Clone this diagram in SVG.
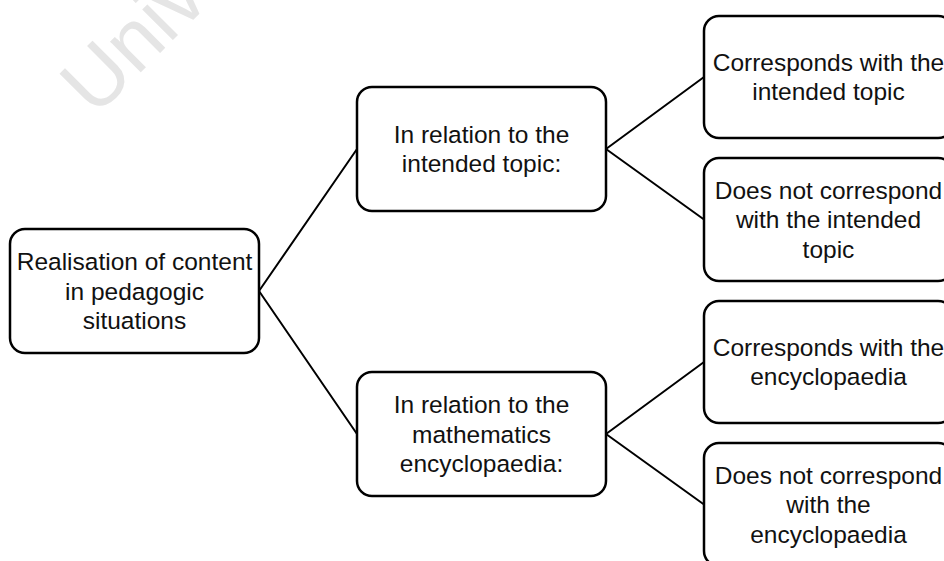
<svg xmlns="http://www.w3.org/2000/svg" width="944" height="561" viewBox="0 0 944 561">
<style>
.box{fill:#fff;stroke:#000;stroke-width:2.5}
.t{font-family:"Liberation Sans",Arial,sans-serif;font-size:24.5px;fill:#111;text-anchor:middle}
.c{stroke:#000;stroke-width:2;fill:none}
.wm{font-family:"Liberation Sans",Arial,sans-serif;font-size:82px;fill:#e5e5e5}
</style>
<rect width="944" height="561" fill="#fff"/>
<text class="wm" transform="translate(95,118) rotate(-45)">Univ</text>
<g id="connectors">
<path class="c" d="M259,291 L357,149 M259,291 L357,434 M606,149 L704,77 M606,149 L704,219.5 M606,434 L704,362 M606,434 L704,504.5"/>
</g>
<g id="n1"><rect class="box" x="10" y="229" width="249" height="124" rx="15"/>
<text class="t"><tspan x="134.5" y="270">Realisation of content</tspan><tspan x="134.5" y="299.5">in pedagogic</tspan><tspan x="134.5" y="329">situations</tspan></text></g>
<g id="n2"><rect class="box" x="357" y="87" width="249" height="124" rx="15"/>
<text class="t"><tspan x="481.5" y="142.75">In relation to the</tspan><tspan x="481.5" y="172.25">intended topic:</tspan></text></g>
<g id="n3"><rect class="box" x="357" y="372" width="249" height="124" rx="15"/>
<text class="t"><tspan x="481.5" y="413">In relation to the</tspan><tspan x="481.5" y="442.5">mathematics</tspan><tspan x="481.5" y="472">encyclopaedia:</tspan></text></g>
<g id="n4"><rect class="box" x="704" y="16" width="249" height="122" rx="15"/>
<text class="t"><tspan x="828.5" y="70.75">Corresponds with the</tspan><tspan x="828.5" y="100.25">intended topic</tspan></text></g>
<g id="n5"><rect class="box" x="704" y="158" width="249" height="123" rx="15"/>
<text class="t"><tspan x="828.5" y="198.5">Does not correspond</tspan><tspan x="828.5" y="228">with the intended</tspan><tspan x="828.5" y="257.5">topic</tspan></text></g>
<g id="n6"><rect class="box" x="704" y="301" width="249" height="122" rx="15"/>
<text class="t"><tspan x="828.5" y="355.75">Corresponds with the</tspan><tspan x="828.5" y="385.25">encyclopaedia</tspan></text></g>
<g id="n7"><rect class="box" x="704" y="443" width="249" height="123" rx="15"/>
<text class="t"><tspan x="828.5" y="483.5">Does not correspond</tspan><tspan x="828.5" y="513">with the</tspan><tspan x="828.5" y="542.5">encyclopaedia</tspan></text></g>
</svg>
